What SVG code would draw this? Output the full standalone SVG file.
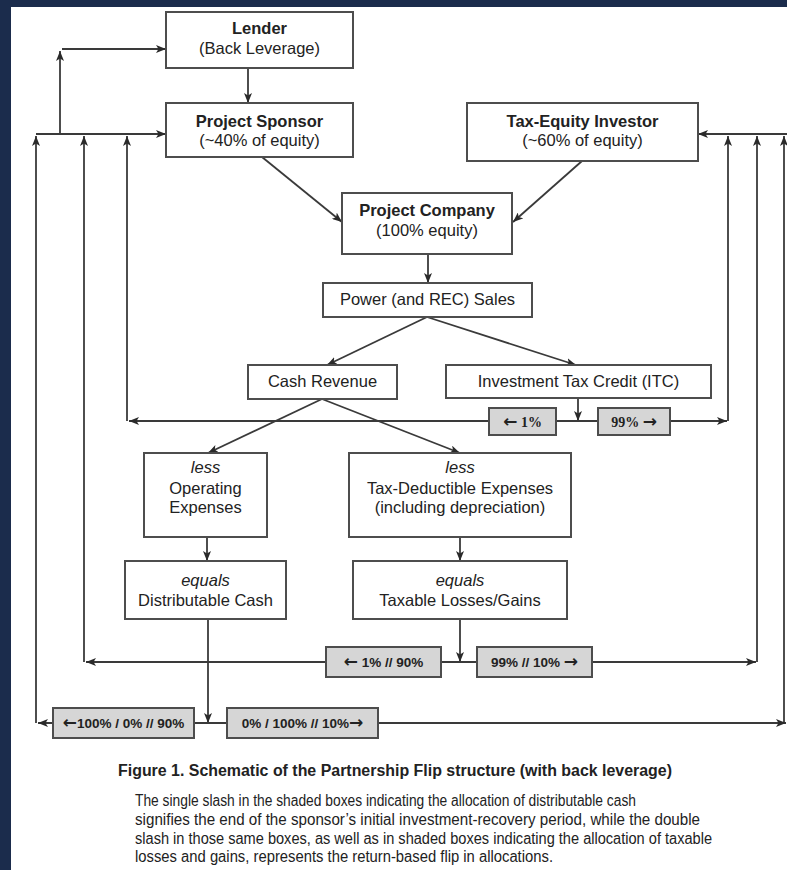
<svg xmlns="http://www.w3.org/2000/svg" width="787" height="870" viewBox="0 0 787 870">
  <defs>
    <marker id="arrow" viewBox="0 0 10 8" markerWidth="10" markerHeight="8" refX="10" refY="4" orient="auto" markerUnits="userSpaceOnUse">
      <path d="M0,0 L10,4 L0,8 L2.5,4 z" fill="#2a2a2a"/>
    </marker>
    <style>
      .box { fill: #ffffff; stroke: #4d4d4d; stroke-width: 2; }
      .share { fill: #d6d6d6; stroke: #4d4d4d; stroke-width: 2; }
      .t { font-family: "Liberation Sans", Arial, sans-serif; font-size: 16.5px; fill: #222; text-anchor: middle; }
      .b { font-weight: bold; }
      .i { font-style: italic; }
      .pct { font-family: "Liberation Sans", Arial, sans-serif; font-size: 13.5px; font-weight: bold; fill: #222; text-anchor: middle; }
      .pcts { font-family: "Liberation Serif", "Times New Roman", serif; font-size: 14px; font-weight: bold; fill: #222; text-anchor: middle; }
      .ar { font-family: "DejaVu Sans", sans-serif; font-weight: bold; font-size: 17px; }
      .arr { fill: none; stroke: #3a3a3a; stroke-width: 1.8; marker-end: url(#arrow); }
      .cap { font-family: "Liberation Sans", Arial, sans-serif; font-size: 16px; fill: #222; }
    </style>
  </defs>

  <!-- page background and frame -->
  <rect x="0" y="0" width="787" height="870" fill="#1b2c4c"/>
  <rect x="11" y="7" width="776" height="863" fill="#ffffff"/>

  <!-- connectors -->
  <g id="connectors">
    <!-- sponsor side: back leverage loop -->
    <line class="arr" x1="248" y1="68" x2="248" y2="103"/>
    <line class="arr" x1="60" y1="134" x2="60" y2="51"/>
    <line class="arr" x1="62" y1="49" x2="166" y2="49"/>
    <line class="arr" x1="36" y1="134" x2="166" y2="134"/>
    <line class="arr" x1="36" y1="723" x2="36" y2="136"/>
    <line class="arr" x1="84" y1="662" x2="84" y2="136"/>
    <line class="arr" x1="127" y1="421" x2="127" y2="136"/>

    <!-- tax-equity side -->
    <line class="arr" x1="787" y1="134" x2="698" y2="134"/>
    <line class="arr" x1="728" y1="421" x2="728" y2="136"/>
    <line class="arr" x1="757" y1="662" x2="757" y2="136"/>
    <line class="arr" x1="784" y1="723" x2="784" y2="136"/>

    <!-- equity contributions into the project company -->
    <line class="arr" x1="262" y1="157" x2="342" y2="222"/>
    <line class="arr" x1="582" y1="161" x2="513" y2="222"/>
    <line class="arr" x1="428" y1="254" x2="428" y2="283"/>

    <!-- sales split -->
    <line class="arr" x1="427" y1="317" x2="327" y2="365"/>
    <line class="arr" x1="427" y1="317" x2="576" y2="365"/>

    <!-- ITC allocation -->
    <line class="arr" x1="578" y1="398" x2="578" y2="421"/>
    <line class="arr" x1="578" y1="421" x2="129" y2="421"/>
    <line class="arr" x1="578" y1="421" x2="727" y2="421"/>

    <!-- cash revenue split -->
    <line class="arr" x1="322" y1="399" x2="208" y2="453"/>
    <line class="arr" x1="322" y1="399" x2="460" y2="453"/>
    <line class="arr" x1="207" y1="537" x2="207" y2="561"/>
    <line class="arr" x1="460" y1="537" x2="460" y2="561"/>

    <!-- taxable losses/gains allocation -->
    <line class="arr" x1="460" y1="619" x2="460" y2="662"/>
    <line class="arr" x1="460" y1="662" x2="86" y2="662"/>
    <line class="arr" x1="460" y1="662" x2="756" y2="662"/>

    <!-- distributable cash allocation -->
    <line class="arr" x1="208" y1="619" x2="208" y2="723"/>
    <line class="arr" x1="208" y1="723" x2="38" y2="723"/>
    <line class="arr" x1="208" y1="723" x2="786" y2="723"/>
  </g>

  <g id="lender">
    <rect class="box" x="166" y="12" width="187" height="56"/>
    <text class="t b" x="259.5" y="34">Lender</text>
    <text class="t" x="259.5" y="54">(Back Leverage)</text>
  </g>

  <g id="sponsor">
    <rect class="box" x="166" y="103" width="187" height="54"/>
    <text class="t b" x="259.5" y="127">Project Sponsor</text>
    <text class="t" x="259.5" y="146">(~40% of equity)</text>
  </g>

  <g id="tax-equity">
    <rect class="box" x="467" y="103" width="231" height="58"/>
    <text class="t b" x="582.5" y="127">Tax-Equity Investor</text>
    <text class="t" x="582.5" y="146">(~60% of equity)</text>
  </g>

  <g id="project-company">
    <rect class="box" x="342" y="193" width="170" height="61"/>
    <text class="t b" x="427" y="216">Project Company</text>
    <text class="t" x="427" y="236">(100% equity)</text>
  </g>

  <g id="sales">
    <rect class="box" x="323" y="283" width="209" height="34"/>
    <text class="t" x="427.5" y="305">Power (and REC) Sales</text>
  </g>

  <g id="cash-revenue">
    <rect class="box" x="248" y="365" width="149" height="34"/>
    <text class="t" x="322.5" y="387">Cash Revenue</text>
  </g>

  <g id="itc">
    <rect class="box" x="446" y="365" width="265" height="33"/>
    <text class="t" x="578.5" y="387">Investment Tax Credit (ITC)</text>
  </g>

  <g id="itc-sponsor-share">
    <rect class="share" x="489" y="408" width="67" height="27"/>
    <text class="pcts" x="522.5" y="427"><tspan class="ar">←</tspan> 1%</text>
  </g>

  <g id="itc-investor-share">
    <rect class="share" x="598" y="408" width="72" height="27"/>
    <text class="pcts" x="634" y="427">99% <tspan class="ar">→</tspan></text>
  </g>

  <g id="operating-expenses">
    <rect class="box" x="144" y="453" width="123" height="84"/>
    <text class="t i" x="205.5" y="473">less</text>
    <text class="t" x="205.5" y="494">Operating</text>
    <text class="t" x="205.5" y="513">Expenses</text>
  </g>

  <g id="tax-deductible-expenses">
    <rect class="box" x="349" y="453" width="222" height="84"/>
    <text class="t i" x="460" y="473">less</text>
    <text class="t" x="460" y="494">Tax-Deductible Expenses</text>
    <text class="t" x="460" y="513">(including depreciation)</text>
  </g>

  <g id="distributable-cash">
    <rect class="box" x="125" y="561" width="161" height="58"/>
    <text class="t i" x="205.5" y="586">equals</text>
    <text class="t" x="205.5" y="606">Distributable Cash</text>
  </g>

  <g id="taxable-results">
    <rect class="box" x="353" y="561" width="214" height="58"/>
    <text class="t i" x="460" y="586">equals</text>
    <text class="t" x="460" y="606">Taxable Losses/Gains</text>
  </g>

  <g id="tax-sponsor-share">
    <rect class="share" x="326" y="647" width="115" height="30"/>
    <text class="pct" x="383.5" y="667"><tspan class="ar">←</tspan> 1% // 90%</text>
  </g>

  <g id="tax-investor-share">
    <rect class="share" x="477" y="647" width="115" height="30"/>
    <text class="pct" x="534.5" y="667">99% // 10% <tspan class="ar">→</tspan></text>
  </g>

  <g id="cash-sponsor-share">
    <rect class="share" x="53" y="708" width="141" height="30"/>
    <text class="pct" x="123.5" y="728"><tspan class="ar">←</tspan>100% / 0% // 90%</text>
  </g>

  <g id="cash-investor-share">
    <rect class="share" x="227" y="708" width="151" height="30"/>
    <text class="pct" x="302.5" y="728">0% / 100% // 10%<tspan class="ar">→</tspan></text>
  </g>

  <!-- caption -->
  <g id="caption">
    <text class="cap" x="395" y="776" text-anchor="middle" font-weight="bold" textLength="554" lengthAdjust="spacingAndGlyphs">Figure 1. Schematic of the Partnership Flip structure (with back leverage)</text>
    <text class="cap" x="135" y="806" textLength="501" lengthAdjust="spacingAndGlyphs">The single slash in the shaded boxes indicating the allocation of distributable cash</text>
    <text class="cap" x="135" y="825" textLength="565" lengthAdjust="spacingAndGlyphs">signifies the end of the sponsor’s initial investment-recovery period, while the double</text>
    <text class="cap" x="135" y="844" textLength="577" lengthAdjust="spacingAndGlyphs">slash in those same boxes, as well as in shaded boxes indicating the allocation of taxable</text>
    <text class="cap" x="135" y="862" textLength="418" lengthAdjust="spacingAndGlyphs">losses and gains, represents the return-based flip in allocations.</text>
  </g>
</svg>
